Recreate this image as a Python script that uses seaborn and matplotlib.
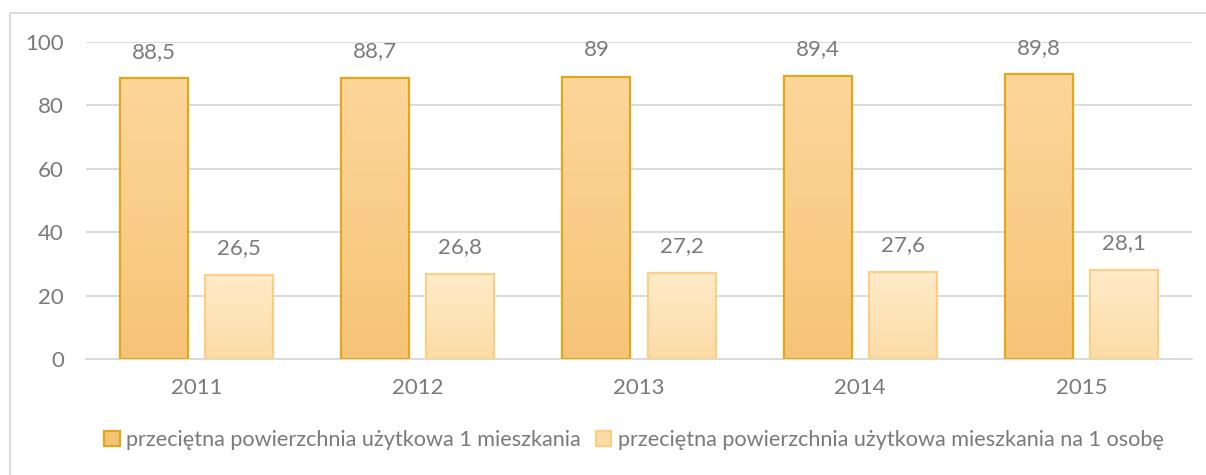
import numpy as np
import pandas as pd
import matplotlib
matplotlib.use("Agg")
import matplotlib.pyplot as plt
from matplotlib.colors import LinearSegmentedColormap
from matplotlib.lines import Line2D
from matplotlib.patches import Rectangle
import seaborn as sns

years = ["2011", "2012", "2013", "2014", "2015"]
series_names = [
    "przeciętna powierzchnia użytkowa 1 mieszkania",
    "przeciętna powierzchnia użytkowa mieszkania na 1 osobę",
]
area_per_dwelling = [88.5, 88.7, 89.0, 89.4, 89.8]
area_per_person = [26.5, 26.8, 27.2, 27.6, 28.1]
y_ticks = [0, 20, 40, 60, 80, 100]

df = pd.DataFrame({
    "rok": years * 2,
    "seria": [series_names[0]] * len(years) + [series_names[1]] * len(years),
    "wartosc": area_per_dwelling + area_per_person,
})

sns.set_theme(style="white")
plt.rcParams["font.family"] = ["Lato", "DejaVu Sans"]
text_color = "#7a7a7a"
grid_color = "#d9d9d9"
fs = 16

# (top colour, bottom colour, edge colour) per series
styles = [
    ("#fdd69b", "#f6c477", "#e3a71c"),
    ("#ffebc9", "#fcdca6", "#fbcf88"),
]

fig = plt.figure(figsize=(12.06, 4.75), dpi=100)
ax = fig.add_axes([86 / 1206, (475 - 359) / 475, (1192 - 86) / 1206, (359 - 42) / 475])

sns.barplot(
    data=df, x="rok", y="wartosc", hue="seria", hue_order=series_names,
    order=years, width=0.77, gap=0.2, ax=ax, legend=False,
    palette=[s[1] for s in styles], saturation=1,
)

ax.set_xlim(-0.5, 4.5)
ax.set_ylim(0, 100)
ax.set_yticks(y_ticks)
ax.set_xlabel("")
ax.set_ylabel("")

# gradient fill inside each bar
for container, (top_c, bot_c, edge_c) in zip(ax.containers, styles):
    cmap = LinearSegmentedColormap.from_list("g", [bot_c, top_c])
    grad = np.linspace(0, 1, 256).reshape(-1, 1)
    for bar in container:
        x0, w, h = bar.get_x(), bar.get_width(), bar.get_height()
        bar.set_facecolor("none")
        bar.set_edgecolor(edge_c)
        bar.set_linewidth(1.6)
        bar.set_zorder(4)
        im = ax.imshow(grad, cmap=cmap, origin="lower", aspect="auto",
                       extent=[x0, x0 + w, 0, h], zorder=3)
        im.set_clip_path(bar)
    ax.bar_label(container, labels=[f"{v:g}".replace(".", ",") for v in container.datavalues],
                 padding=12, fontsize=fs, color=text_color)

ax.set_xlim(-0.5, 4.5)
ax.set_ylim(0, 100)

ax.yaxis.grid(True, color=grid_color, linewidth=1.3)
ax.set_axisbelow(True)
for side in ["top", "right", "left"]:
    ax.spines[side].set_visible(False)
ax.spines["bottom"].set_color(grid_color)
ax.spines["bottom"].set_linewidth(1.3)
ax.tick_params(axis="both", length=0, labelsize=fs, labelcolor=text_color)
ax.tick_params(axis="y", pad=16)
ax.tick_params(axis="x", pad=14)

# legend
handles = [
    Rectangle((0, 0), 1, 1, facecolor=s[1], edgecolor=s[2], linewidth=1.6)
    for s in styles
]
leg = fig.legend(handles, series_names, loc="center",
                 bbox_to_anchor=(634 / 1206, (475 - 440) / 475),
                 ncol=2, frameon=False, fontsize=15.6, handlelength=0.7, handleheight=0.7,
                 handletextpad=0.3, columnspacing=0.7, labelcolor=text_color)

# chart-area border (left and top edges)
fig.add_artist(Line2D([10 / 1206, 10 / 1206], [0, (475 - 13) / 475],
                      transform=fig.transFigure, color=grid_color, linewidth=1.3))
fig.add_artist(Line2D([10 / 1206, 1], [(475 - 13) / 475, (475 - 13) / 475],
                      transform=fig.transFigure, color=grid_color, linewidth=1.3))

fig.savefig("out.png", dpi=100)
